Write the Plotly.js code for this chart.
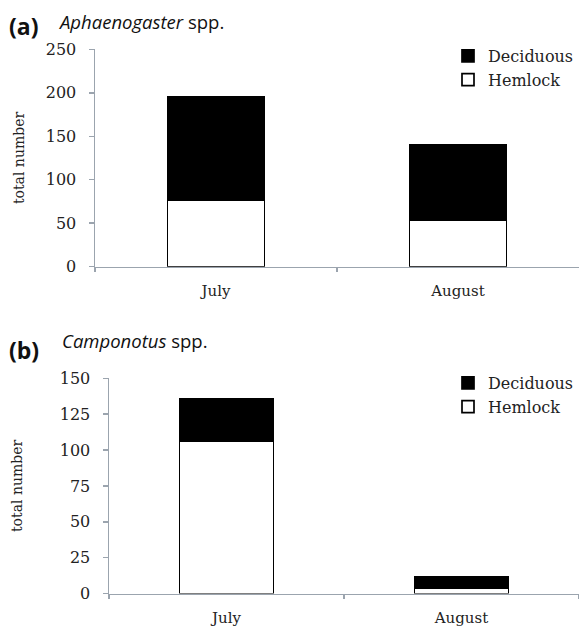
<!DOCTYPE html>
<html>
<head>
<meta charset="utf-8">
<script src="https://cdn.plot.ly/plotly-3.0.1.min.js"></script>
<style>html,body{margin:0;padding:0;background:#fff}#chart{width:579px;height:631px}</style>
</head>
<body>
<div id="chart"></div>
<script>
const months = ['July', 'August'];
const aphHemlock = [77, 53];
const aphDeciduous = [118, 87];
const camHemlock = [106, 4];
const camDeciduous = [30, 8];
const seriesNames = ['Hemlock', 'Deciduous'];

const axisGray = '#9ba4ae';
const serif = 'DejaVu Serif';
const sans = 'Open Sans';

function barTrace(y, name, fill, xa, ya, leg) {
  return {
    type: 'bar', x: months, y: y, name: name,
    xaxis: xa, yaxis: ya, legend: leg, width: 0.4,
    marker: {color: fill, line: {color: '#000', width: 1.7}},
    hoverinfo: 'x+y+name'
  };
}

const data = [
  barTrace(aphHemlock, seriesNames[0], '#ffffff', 'x', 'y', 'legend'),
  barTrace(aphDeciduous, seriesNames[1], '#000000', 'x', 'y', 'legend'),
  barTrace(camHemlock, seriesNames[0], '#ffffff', 'x2', 'y2', 'legend2'),
  barTrace(camDeciduous, seriesNames[1], '#000000', 'x2', 'y2', 'legend2')
];

const H = 631, W = 579;
function xaxis(left, ya) {
  return {
    domain: [left / W, 1], anchor: ya,
    type: 'category', range: [-0.5, 1.5],
    showline: true, linecolor: axisGray, linewidth: 1.5,
    ticks: 'outside', tickson: 'boundaries', ticklen: 4, tickcolor: axisGray, tickwidth: 1.5,
    ticklabelstandoff: 10,
    tickfont: {family: serif, size: 15, color: '#222'},
    showgrid: false, zeroline: false, fixedrange: true
  };
}
function yaxis(top, bottom, max, dtick, standoff, xa) {
  return {
    domain: [(H - bottom) / H, (H - top) / H], anchor: xa,
    range: [0, max], dtick: dtick, tick0: 0,
    showline: true, linecolor: axisGray, linewidth: 1.5,
    ticks: 'outside', ticklen: 5, tickcolor: axisGray, tickwidth: 1.5,
    ticklabelstandoff: 9,
    tickfont: {family: serif, size: 16, color: '#222'},
    title: {text: 'total number', font: {family: serif, size: 14, color: '#222'}, standoff: standoff},
    showgrid: false, zeroline: false, fixedrange: true
  };
}

const legendCommon = {
  x: 1, xanchor: 'right', yanchor: 'top', traceorder: 'reversed',
  bgcolor: 'rgba(0,0,0,0)', font: {family: serif, size: 16, color: '#222'},
  itemwidth: 30, tracegroupgap: 0
};

const layout = {
  width: W, height: H,
  margin: {l: 0, r: 0, t: 0, b: 0},
  paper_bgcolor: '#fff', plot_bgcolor: '#fff',
  barmode: 'stack', bargap: 0.6,
  showlegend: true,
  xaxis: xaxis(95, 'y'),
  yaxis: yaxis(49.3, 266.7, 250, 50, 18, 'x'),
  xaxis2: xaxis(109, 'y2'),
  yaxis2: yaxis(378.3, 593.6, 150, 25, 34, 'x2'),
  legend: Object.assign({}, legendCommon, {y: (H - 39) / H}),
  legend2: Object.assign({}, legendCommon, {y: (H - 366) / H}),
  annotations: [
    {xref: 'paper', yref: 'paper', x: 7 / W, y: (H - 26) / H, xanchor: 'left', yanchor: 'middle',
     text: '<b>(a)</b>', showarrow: false, font: {family: sans, size: 23, color: '#111'}},
    {xref: 'paper', yref: 'paper', x: 56 / W, y: (H - 21) / H, xanchor: 'left', yanchor: 'middle',
     text: '<i>Aphaenogaster</i> spp.', showarrow: false, font: {family: sans, size: 18.5, color: '#111'}},
    {xref: 'paper', yref: 'paper', x: 7 / W, y: (H - 350) / H, xanchor: 'left', yanchor: 'middle',
     text: '<b>(b)</b>', showarrow: false, font: {family: sans, size: 23, color: '#111'}},
    {xref: 'paper', yref: 'paper', x: 60 / W, y: (H - 340) / H, xanchor: 'left', yanchor: 'middle',
     text: '<i>Camponotus</i> spp.', showarrow: false, font: {family: sans, size: 18.5, color: '#111'}}
  ]
};

Plotly.newPlot('chart', data, layout, {displayModeBar: false, staticPlot: true});
</script>
</body>
</html>
